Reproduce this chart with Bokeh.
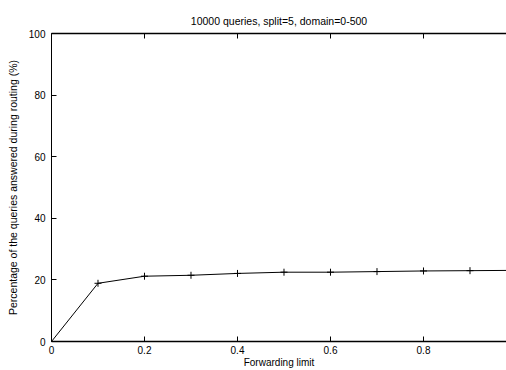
from bokeh.plotting import figure
from bokeh.models import Range1d, LinearAxis, FixedTicker, CustomLabelingPolicy
from bokeh.embed import file_html
from bokeh.resources import INLINE

forwarding_limit = [0.0, 0.1, 0.2, 0.3, 0.4, 0.5, 0.6, 0.7, 0.8, 0.9, 1.0]
answered_pct = [0.0, 18.9, 21.2, 21.5, 22.1, 22.5, 22.5, 22.7, 22.9, 23.0, 23.1]
x_ticks = [0, 0.2, 0.4, 0.6, 0.8, 1.0]
y_ticks = [0, 20, 40, 60, 80, 100]

FONT = "Liberation Sans"

p = figure(width=506, height=370, output_backend="svg", toolbar_location=None,
           x_range=Range1d(0, 0.9785), y_range=Range1d(0, 100),
           title="10000 queries, split=5, domain=0-500",
           min_border_left=51, min_border_right=0, min_border_top=33, min_border_bottom=29)

p.title.align = "center"
p.title.text_font = FONT
p.title.text_font_size = "10.5px"
p.title.text_font_style = "normal"
p.title.text_color = "black"
p.title.standoff = 13
p.outline_line_color = None
p.grid.visible = False

for ax in (p.xaxis[0], p.yaxis[0]):
    ax.major_tick_in = 5
    ax.major_tick_out = 0
    ax.minor_tick_in = 0
    ax.minor_tick_out = 0
    ax.axis_line_color = "black"
    ax.major_tick_line_color = "black"
    ax.major_label_text_font = FONT
    ax.major_label_text_font_size = "10px"
    ax.major_label_text_color = "black"
    ax.axis_label_text_font = FONT
    ax.axis_label_text_font_size = "10px"
    ax.axis_label_text_font_style = "normal"
    ax.axis_label_text_color = "black"

p.xaxis[0].ticker = FixedTicker(ticks=x_ticks)
p.yaxis[0].ticker = FixedTicker(ticks=y_ticks)
p.xaxis[0].axis_label = "Forwarding limit"
p.yaxis[0].axis_label = "Percentage of the queries answered during routing (%)"
p.yaxis[0].axis_label_text_font_size = "10.5px"
p.xaxis[0].major_label_standoff = 4
p.xaxis[0].axis_label_standoff = 0
p.xaxis[0].axis_line_width = 1.5
p.yaxis[0].major_label_standoff = 6
p.yaxis[0].axis_label_standoff = 7

no_labels = CustomLabelingPolicy(code="""
const out = indices.clone ? indices.clone() : indices;
for (const i of Array.from(indices)) { out.unset(i); }
return out;
""")

top = LinearAxis(ticker=FixedTicker(ticks=x_ticks), major_tick_in=5, major_tick_out=0,
                 minor_tick_in=0, minor_tick_out=0, major_label_policy=no_labels,
                 major_label_text_font_size="0px", major_label_standoff=0,
                 axis_line_color="black", axis_line_width=1.5)
p.add_layout(top, "above")

p.line(forwarding_limit, answered_pct, line_color="black", line_width=1)
p.scatter(forwarding_limit, answered_pct, marker="cross", size=7, line_color="black", line_width=1)

open("out.html", "w").write(file_html(p, INLINE))
